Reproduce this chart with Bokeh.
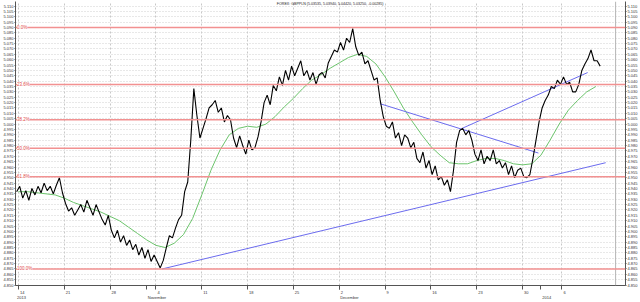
import numpy as np
from bokeh.plotting import figure
from bokeh.models import (Range1d, LinearAxis, FixedTicker, SingleIntervalTicker,
                          NumeralTickFormatter, Span, Label)
from bokeh.embed import file_html
from bokeh.resources import INLINE

title_text = "FOREX: GBPPLN (5.03535, 5.03940, 5.04420, 5.03250, -0.00285)"

# price series, one value every 1/3 trading day (8h bars), starting Mon 14 Oct 2013
price = [
    4.937, 4.942, 4.931, 4.938, 4.929, 4.940, 4.934, 4.942, 4.936, 4.945,
    4.938, 4.942, 4.935, 4.943, 4.950, 4.936, 4.926, 4.919, 4.922, 4.915,
    4.920, 4.925, 4.918, 4.929, 4.922, 4.915, 4.925, 4.918, 4.911, 4.906,
    4.915, 4.901, 4.894, 4.901, 4.890, 4.896, 4.887, 4.892, 4.883, 4.888,
    4.878, 4.885, 4.875, 4.883, 4.872, 4.878, 4.872, 4.866, 4.873, 4.885,
    4.896, 4.894, 4.903, 4.911, 4.915, 4.937, 4.946, 4.985, 5.033, 5.008,
    4.987, 4.996, 5.005, 5.015, 5.018, 5.022, 5.011, 5.015, 5.002, 5.008,
    5.004, 4.987, 4.978, 4.989, 4.980, 4.972, 4.985, 4.976, 4.978, 4.988,
    5.002, 5.020, 5.027, 5.018, 5.036, 5.031, 5.044, 5.036, 5.050, 5.041,
    5.054, 5.045, 5.052, 5.059, 5.045, 5.050, 5.041, 5.048, 5.037, 5.046,
    5.048, 5.043, 5.057, 5.063, 5.069, 5.067, 5.076, 5.069, 5.080, 5.076,
    5.089, 5.072, 5.064, 5.067, 5.056, 5.059, 5.050, 5.041, 5.043, 5.022,
    5.007, 4.998, 4.996, 5.002, 4.987, 4.992, 4.980, 4.990, 4.987, 4.978,
    4.983, 4.968, 4.964, 4.974, 4.959, 4.966, 4.953, 4.961, 4.948, 4.951,
    4.943, 4.948, 4.937, 4.957, 4.983, 4.994, 4.996, 4.990, 4.994, 4.985,
    4.972, 4.966, 4.976, 4.963, 4.970, 4.966, 4.976, 4.963, 4.966, 4.959,
    4.964, 4.953, 4.961, 4.950, 4.957, 4.959, 4.951, 4.950, 4.953, 4.968,
    4.985, 5.002, 5.015, 5.022, 5.027, 5.035, 5.033, 5.041, 5.037, 5.044,
    5.037, 5.039, 5.030, 5.030, 5.037, 5.050, 5.056, 5.061, 5.069, 5.059,
    5.059, 5.054,
]
price_start = -0.2      # trading-day position of the first bar
price_step = 1.0 / 3.0  # trading days per bar

# moving average (green), one value per trading day
ma = [
    4.937, 4.937, 4.936, 4.935, 4.934, 4.931, 4.927, 4.924, 4.921, 4.918,
    4.914, 4.910, 4.904, 4.898, 4.892, 4.887, 4.885, 4.889, 4.897, 4.912,
    4.934, 4.957, 4.976, 4.990, 4.996, 4.998, 4.997, 5.000, 5.007, 5.016,
    5.024, 5.033, 5.041, 5.046, 5.052, 5.057, 5.062, 5.065, 5.063, 5.056,
    5.044, 5.030, 5.015, 5.002, 4.990, 4.979, 4.971, 4.964, 4.963, 4.963,
    4.966, 4.968, 4.968, 4.966, 4.963, 4.962, 4.963, 4.971, 4.985, 5.000,
    5.013, 5.022, 5.030, 5.035,
]
ma_start = 0.0

# Fibonacci retracement
fib_high = 5.090
fib_low = 4.865
fib_ratios = [0.0, 0.236, 0.382, 0.5, 0.618, 1.0]
fib_labels = ["0.0%", "23.6%", "38.2%", "50.0%", "61.8%", "100.0%"]

# trend lines (trading day, price)
trend_x0 = [15.67, 39.44, 48.40]
trend_y0 = [4.865, 5.019, 4.996]
trend_x1 = [64.07, 56.73, 62.10]
trend_y1 = [4.964, 4.973, 5.048]

# time axis
week_pos = [0, 5, 10, 15, 20, 25, 30, 35, 40, 45, 50, 55, 59.3]
week_labels = ["14", "21", "28", "4", "11", "18", "25", "2", "9", "16", "23", "30", "6"]
month_pos = [-0.3, 14, 35, 57]
month_labels = ["2013", "November", "December", "2014"]
last_bar_marker = 65.15

FONT = "Liberation Sans"
PX_PER_DAY = 9.255

p = figure(width=640, height=302, output_backend="svg", toolbar_location=None,
           x_range=Range1d(-0.324, 66.23), y_range=Range1d(4.8496, 5.1142))
p.min_border_left = 12
p.min_border_right = 12
p.min_border_top = 1
p.min_border_bottom = 9
p.outline_line_color = None
p.background_fill_color = "white"
p.border_fill_color = "white"

yt = SingleIntervalTicker(interval=0.005, num_minor_ticks=0)
fmt = NumeralTickFormatter(format="0.000")

def style_y(ax):
    ax.ticker = yt
    ax.formatter = fmt
    ax.major_label_text_font = FONT
    ax.major_label_text_font_size = "4px"
    ax.major_label_text_color = "#333333"
    ax.axis_line_color = "#555555"
    ax.major_tick_line_color = "#555555"
    ax.major_tick_out = 1
    ax.major_tick_in = 0
    ax.minor_tick_line_color = None
    ax.major_label_standoff = 1
    ax.axis_label_standoff = 0

style_y(p.yaxis[0])
ry = LinearAxis()
style_y(ry)
p.add_layout(ry, "right")

# bottom axis: day numbers right of the weekly tick marks (first row),
# month names right of the month boundaries (second row)
def label_offset(txt):
    return (1.5 + len(txt) * 1.1) / PX_PER_DAY

wk_ticks = [round(w + label_offset(l), 4) for w, l in zip(week_pos, week_labels)]
mo_ticks = [round(m + label_offset(l), 4) for m, l in zip(month_pos, month_labels)]
overrides = {t: l for t, l in zip(wk_ticks, week_labels)}
overrides.update({t: "\n" + l for t, l in zip(mo_ticks, month_labels)})
xa = p.xaxis[0]
xa.ticker = FixedTicker(ticks=sorted(wk_ticks + mo_ticks),
                        minor_ticks=week_pos + month_pos[1:])
xa.major_label_overrides = overrides
xa.major_label_text_font = FONT
xa.major_label_text_font_size = "4px"
xa.major_label_text_line_height = 1.0
xa.major_label_text_color = "#333333"
xa.axis_line_color = "#555555"
xa.major_tick_line_color = None
xa.major_tick_out = 0
xa.major_tick_in = 0
xa.minor_tick_line_color = "#555555"
xa.minor_tick_out = 4
xa.minor_tick_in = 0
xa.major_label_standoff = 0
xa.axis_label_standoff = 0

# grids
p.ygrid.ticker = yt
p.ygrid.grid_line_color = "#d0d0d0"
p.ygrid.grid_line_dash = "1 2"
p.xgrid.ticker = FixedTicker(ticks=week_pos)
p.xgrid.grid_line_color = "#c8c8c8"
p.xgrid.grid_line_dash = "2 2"

p.add_layout(Span(location=last_bar_marker, dimension="height",
                  line_color="#b4b4b4", line_width=1))

# Fibonacci levels
for r, lab in zip(fib_ratios, fib_labels):
    lvl = fib_high - r * (fib_high - fib_low)
    p.add_layout(Span(location=lvl, dimension="width", line_color="#f29191",
                      line_width=1.6))
    p.add_layout(Label(x=-0.15, y=lvl, text=lab, text_font=FONT,
                       text_font_size="4.5px", text_color="#e04848",
                       text_baseline="middle", background_fill_color="white",
                       background_fill_alpha=1.0))

# series
t_price = price_start + np.arange(len(price)) * price_step
t_ma = ma_start + np.arange(len(ma))
p.line(t_ma, ma, line_color="#6cc46c", line_width=1)
p.segment(trend_x0, trend_y0, trend_x1, trend_y1, line_color="#6b6bee", line_width=1)
p.line(t_price, price, line_color="black", line_width=1.1)

p.add_layout(Label(x=34.0, y=5.1123, text=title_text, text_font=FONT,
                   text_font_size="3.6px", text_color="#222222",
                   text_align="center", text_baseline="middle"))

open("out.html", "w").write(file_html(p, INLINE))
